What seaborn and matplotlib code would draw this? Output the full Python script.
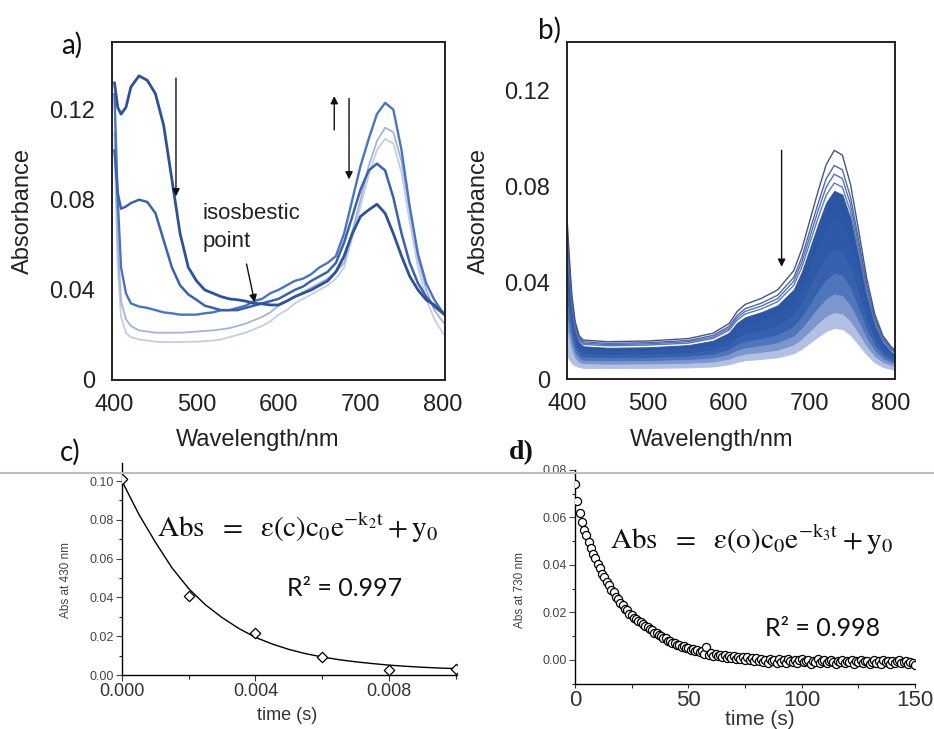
import matplotlib
matplotlib.use("Agg")
import matplotlib.pyplot as plt
import seaborn as sns
import pandas as pd
from matplotlib.lines import Line2D
from matplotlib.ticker import MultipleLocator

sns.set_theme(style="white")
plt.rcParams['font.family'] = ['Liberation Sans', 'DejaVu Sans']
plt.rcParams['mathtext.fontset'] = 'stix'

# ---------------- data: panel a ----------------
wl_a = [400, 404, 408, 414, 420, 430, 440, 450, 460, 470, 480, 490, 500, 510, 520, 530,
        540, 550, 560, 570, 580, 590, 600, 610, 620, 630, 640, 650, 660, 670, 680, 690,
        700, 710, 720, 730, 740, 750, 760, 770, 780, 790, 800, 805]
a_curve1 = [.132, .121, .118, .121, .130, .135, .133, .127, .113, .089, .065, .050, .044, .040, .0385, .037,
            .036, .0356, .035, .034, .0338, .0333, .0333, .035, .037, .0385, .040, .042, .044, .048, .055, .065,
            .0726, .0755, .078, .074, .065, .055, .046, .040, .0356, .0333, .030, .029]
a_curve2 = [.102, .083, .076, .077, .0785, .080, .079, .074, .062, .050, .042, .038, .0356, .033, .032, .031,
            .031, .031, .032, .033, .034, .035, .036, .038, .040, .0415, .044, .046, .048, .052, .061, .0726,
            .0845, .093, .096, .093, .081, .065, .052, .043, .037, .0326, .0296, .028]
a_curve3 = [.127, .080, .050, .0385, .034, .0326, .032, .031, .030, .0296, .029, .029, .029, .0296, .030, .031,
            .031, .032, .033, .035, .036, .0385, .040, .042, .044, .045, .047, .050, .052, .055, .065, .080,
            .095, .107, .118, .123, .120, .102, .077, .056, .043, .0356, .030, .029]
a_curve4 = [.110, .060, .035, .027, .024, .022, .0215, .021, .021, .021, .021, .0212, .0215, .0218, .022, .0225,
            .023, .024, .025, .0265, .028, .030, .033, .035, .037, .039, .041, .043, .045, .048, .052, .066,
            .080, .095, .106, .112, .110, .097, .075, .054, .040, .031, .026, .024]
a_curve5 = [.105, .050, .028, .021, .019, .018, .0175, .017, .0168, .0168, .0168, .017, .017, .0172, .0175, .018,
            .019, .020, .021, .0225, .024, .026, .029, .031, .034, .036, .038, .040, .042, .045, .050, .063,
            .077, .091, .102, .107, .105, .092, .070, .050, .036, .027, .021, .019]

# ---------------- data: panel b ----------------
wl_b = [400, 403, 406, 410, 415, 420, 450, 500, 550, 580, 600, 610, 620, 640, 660, 680, 690, 700,
        710, 720, 730, 740, 750, 760, 770, 780, 790, 800, 805]
b_line1 = [.067, .050, .035, .024, .018, .0162, .0155, .0158, .0168, .019, .023, .028, .031, .0335, .037, .045, .054, .066,
           .078, .089, .095, .093, .081, .062, .042, .027, .018, .0135, .012]
b_line2 = [.0627, .0469, .0329, .0227, .0171, .0155, .0148, .0151, .0160, .0181, .0218, .0264, .0292, .0315, .0348, .0422, .0506, .0618,
           .0729, .0832, .0887, .0869, .0757, .0580, .0394, .0255, .0171, .0129, .0115]
b_line3 = [.0601, .0450, .0317, .0219, .0165, .0149, .0143, .0146, .0155, .0174, .0210, .0254, .0281, .0303, .0334, .0406, .0486, .0592,
           .0699, .0797, .0851, .0833, .0726, .0557, .0379, .0245, .0165, .0125, .0112]
b_line4 = [.0576, .0431, .0304, .0210, .0159, .0144, .0138, .0141, .0149, .0168, .0202, .0244, .0270, .0291, .0321, .0389, .0465, .0567,
           .0669, .0763, .0814, .0797, .0695, .0533, .0363, .0236, .0159, .0121, .0108]
b_fill0 = [.0552, .0413, .0290, .0200, .0151, .0136, .0130, .0132, .0141, .0159, .0192, .0233, .0257, .0278, .0306, .0372, .0446, .0544,
           .0643, .0733, .0782, .0766, .0667, .0511, .0347, .0224, .0151, .0114, .0101]
b_fill1 = [.0465, .0350, .0248, .0173, .0132, .0120, .0115, .0117, .0124, .0139, .0166, .0200, .0220, .0237, .0261, .0316, .0377, .0458,
           .0540, .0615, .0656, .0642, .0560, .0431, .0295, .0193, .0132, .0101, .0091]
b_fill2 = [.0383, .0290, .0207, .0147, .0114, .0104, .0100, .0102, .0107, .0119, .0141, .0169, .0185, .0199, .0218, .0262, .0312, .0378,
           .0444, .0504, .0537, .0526, .0460, .0356, .0246, .0163, .0114, .0089, .0081]
b_fill3 = [.0314, .0239, .0173, .0124, .0098, .0090, .0087, .0088, .0093, .0102, .0120, .0142, .0155, .0166, .0182, .0217, .0256, .0309,
           .0362, .0410, .0437, .0428, .0375, .0292, .0204, .0138, .0098, .0078, .0072]
b_fill4 = [.0254, .0195, .0142, .0104, .0083, .0076, .0074, .0075, .0079, .0086, .0100, .0118, .0128, .0137, .0149, .0177, .0209, .0251,
           .0293, .0331, .0352, .0345, .0303, .0237, .0167, .0114, .0083, .0067, .0062]
b_fill5 = [.0199, .0153, .0113, .0083, .0067, .0062, .0060, .0061, .0064, .0069, .0080, .0094, .0102, .0109, .0118, .0140, .0164, .0196,
           .0229, .0258, .0275, .0269, .0237, .0186, .0132, .0091, .0067, .0055, .0051]
b_fill6 = [.0100, .0080, .0065, .0055, .0050, .0046, .0045, .0046, .0048, .0052, .0061, .0071, .0078, .0083, .0090, .0107, .0126, .0151,
           .0176, .0199, .0212, .0208, .0183, .0143, .0101, .0069, .0050, .0041, .0038]

# ---------------- data: panel c ----------------
time_c = [0.000, 0.002, 0.004, 0.006, 0.008, 0.010]
abs_c = [0.101, 0.0405, 0.0217, 0.0095, 0.0025, 0.0030]
fit_time_c = [0.0000, 0.0005, 0.0010, 0.0015, 0.0020, 0.0025, 0.0030, 0.0035, 0.0040, 0.0045, 0.0050,
              0.0055, 0.0060, 0.0065, 0.0070, 0.0075, 0.0080, 0.0085, 0.0090, 0.0095, 0.0100, 0.0101]
fit_abs_c = [0.1000, 0.0830, 0.0685, 0.0552, 0.0445, 0.0362, 0.0296, 0.0240, 0.0194, 0.0160, 0.0132,
             0.0110, 0.0093, 0.0079, 0.0068, 0.0059, 0.0051, 0.0045, 0.0040, 0.0036, 0.0033, 0.0032]

# ---------------- data: panel d ----------------
time_d = [0, 1, 2, 3, 4, 5, 6, 7, 8, 9, 10, 11, 12, 13, 14, 15, 16, 17, 18, 19,
          20, 21, 22, 23, 24, 25, 26, 27, 28, 29, 30, 31, 32, 33, 34, 35, 36, 37, 38, 39,
          40, 41, 42, 43, 44, 45, 46, 47, 48, 49, 50, 51, 52, 53, 54, 55, 56, 57, 58, 59,
          60, 61, 62, 63, 64, 65, 66, 67, 68, 69, 70, 71, 72, 73, 74, 75, 76, 77, 78, 79,
          80, 81, 82, 83, 84, 85, 86, 87, 88, 89, 90, 91, 92, 93, 94, 95, 96, 97, 98, 99,
          100, 101, 102, 103, 104, 105, 106, 107, 108, 109, 110, 111, 112, 113, 114, 115, 116, 117, 118, 119,
          120, 121, 122, 123, 124, 125, 126, 127, 128, 129, 130, 131, 132, 133, 134, 135, 136, 137, 138, 139,
          140, 141, 142, 143, 144, 145, 146, 147, 148, 149, 150]
abs_d = [.0740, .0670, .0620, .0580, .0548, .0524, .0495, .0472, .0446, .0427, .0402, .0386, .0362, .0349, .0327, .0315, .0295, .0284, .0265, .0257,
         .0240, .0232, .0215, .0209, .0194, .0189, .0178, .0173, .0162, .0160, .0152, .0142, .0139, .0128, .0125, .0115, .0113, .0103, .0101, .0092,
         .0092, .0081, .0081, .0069, .0070, .0061, .0063, .0055, .0057, .0048, .0051, .0041, .0045, .0036, .0040, .0031, .0036, .0026, .0052, .0022,
         .0028, .0018, .0024, .0015, .0022, .0012, .0019, .0009, .0017, .0007, .0015, .0004, .0013, .0002, .0011, .0000, .0010, -.0002, .0008, -.0003,
         .0007, -.0003, .0004, -.0009, .0001, -.0012, .0003, -.0006, -.0001, -.0013, .0002, -.0008, .0000, -.0014, .0003, -.0005, -.0010, .0001, -.0015, -.0002,
         .0002, -.0011, -.0004, .0001, -.0016, -.0003, -.0009, .0002, -.0013, -.0006, -.0001, -.0014, -.0004, .0001, -.0010, -.0017, -.0003, -.0008, .0000, -.0015,
         -.0006, -.0011, -.0002, -.0016, -.0005, -.0009, .0001, -.0014, -.0007, -.0003, -.0018, -.0008, -.0001, -.0012, -.0005, -.0016, -.0002, -.0010, -.0006, -.0019,
         -.0004, -.0012, -.0007, -.0001, -.0015, -.0009, -.0004, -.0017, -.0008, -.0012, -.0020]

W, H = 934, 729
fig = plt.figure(figsize=(W / 100, H / 100), dpi=100)


def px_axes(l, t, r, b):
    return fig.add_axes([l / W, 1 - b / H, (r - l) / W, (b - t) / H])


# ======================= panel a =======================
ax_a = px_axes(112, 42, 445, 380)
curves_a = [(a_curve5, '#c6cde6', 1.3), (a_curve4, '#a5b3d9', 1.3), (a_curve3, '#4a73c0', 1.7),
            (a_curve2, '#3a62ae', 1.8), (a_curve1, '#2f5199', 2.0)]
for vals, col, lw in curves_a:
    sns.lineplot(x=wl_a, y=vals, ax=ax_a, color=col, lw=lw, sort=False, estimator=None)
ax_a.set_xlim(397, 803)
ax_a.set_ylim(0, 0.15)

# ======================= panel b =======================
ax_b = px_axes(567, 42, 895, 379)
fills = [b_fill0, b_fill1, b_fill2, b_fill3, b_fill4, b_fill5, b_fill6]
fill_cols = ['#2b56a4', '#2d59a8', '#3561ae', '#4f76bc', '#7d96cc', '#b3c0e3']
for i in range(len(fills) - 1):
    ax_b.fill_between(wl_b, fills[i + 1], fills[i], color=fill_cols[i], lw=0.6, edgecolor=fill_cols[i])
outlines = [(b_line4, '#5d78bb'), (b_line3, '#5570b5'), (b_line2, '#4f68ad'), (b_line1, '#46567f')]
for vals, col in outlines:
    sns.lineplot(x=wl_b, y=vals, ax=ax_b, color=col, lw=1.0, sort=False, estimator=None)
ax_b.set_xlim(400, 805)
ax_b.set_ylim(0, 0.14)

for ax in (ax_a, ax_b):
    ax.set_xticks([400, 500, 600, 700, 800])
    ax.set_yticks([0, 0.04, 0.08, 0.12])
    ax.set_yticklabels(['0', '0.04', '0.08', '0.12'])
    ax.tick_params(direction='in', length=4, width=0.8, colors='#222222', labelsize=17)
    ax.tick_params(axis='y', pad=12)
    ax.tick_params(axis='x', pad=10)
    for s in ax.spines.values():
        s.set_color('#222222')
        s.set_linewidth(1.4)
    ax.set_ylabel('Absorbance', fontsize=17, color='#222222')
    ax.set_xlabel('Wavelength/nm', fontsize=17, color='#222222', va='top')
ax_a.yaxis.set_label_coords(-0.235, 0.5)
ax_a.xaxis.set_label_coords(0.438, -0.145)
ax_b.yaxis.set_label_coords(-0.235, 0.5)
ax_b.xaxis.set_label_coords(0.442, -0.148)

arrow_kw = dict(arrowstyle='-|>', color='#111111', lw=1.0, mutation_scale=11, shrinkA=0, shrinkB=0)
ax_a.annotate('', xy=(475, 0.0815), xytext=(475, 0.134), arrowprops=arrow_kw)
ax_a.annotate('', xy=(668, 0.126), xytext=(668, 0.111), arrowprops=arrow_kw)
ax_a.annotate('', xy=(686, 0.089), xytext=(686, 0.125), arrowprops=arrow_kw)
ax_a.annotate('', xy=(571, 0.0345), xytext=(561, 0.0515), arrowprops=arrow_kw)
ax_a.text(507, 0.0785, 'isosbestic\npoint', fontsize=16, va='top', ha='left',
          linespacing=1.45, color='#222222')
ax_b.annotate('', xy=(665, 0.0466), xytext=(665, 0.095), arrowprops=arrow_kw)

# ======================= panel c =======================
ax_c = px_axes(122, 463, 457, 675)
sns.lineplot(x=fit_time_c, y=fit_abs_c, ax=ax_c, color='black', lw=1.0, sort=False, estimator=None)
sns.scatterplot(x=time_c, y=abs_c, ax=ax_c, marker='D', s=28, color='white',
                edgecolor='black', linewidth=0.9, zorder=3)
ax_c.set_xlim(0, 0.01004)
ax_c.set_ylim(0, 0.1093)
ax_c.set_xticks([0.000, 0.004, 0.008])
ax_c.set_xticklabels(['0.000', '0.004', '0.008'])
ax_c.xaxis.set_minor_locator(MultipleLocator(0.002))
ax_c.set_yticks([0.00, 0.02, 0.04, 0.06, 0.08, 0.10])
ax_c.set_yticklabels(['0.00', '0.02', '0.04', '0.06', '0.08', '0.10'])
ax_c.yaxis.set_minor_locator(MultipleLocator(0.01))
ax_c.tick_params(axis='x', which='major', labelsize=13, pad=2, direction='out', length=4, width=0.8,
                 bottom=True, colors='#333333')
ax_c.tick_params(axis='x', which='minor', direction='out', length=3, width=0.8, bottom=True)
ax_c.tick_params(axis='y', which='major', labelsize=9, pad=2, direction='out', length=4, width=0.8,
                 left=True, colors='#444444')
ax_c.tick_params(axis='y', which='minor', direction='out', length=2.5, width=0.8, left=True)
ax_c.set_xlabel('time (s)', fontsize=13, color='#333333', va='top')
ax_c.xaxis.set_label_coords(0.493, -0.15)
ax_c.set_ylabel('Abs at 430 nm', fontsize=8.5, color='#444444')
ax_c.yaxis.set_label_coords(-0.15, 0.45)

# ======================= panel d =======================
ax_d = px_axes(575, 470, 915, 684)
sns.scatterplot(x=time_d, y=abs_d, ax=ax_d, marker='o', s=34, color='white',
                edgecolor='black', linewidth=0.9, zorder=3)
ax_d.set_xlim(0, 150)
ax_d.set_ylim(-0.0102, 0.08)
ax_d.set_xticks([0, 50, 100, 150])
ax_d.xaxis.set_minor_locator(MultipleLocator(25))
ax_d.set_yticks([0.00, 0.02, 0.04, 0.06, 0.08])
ax_d.set_yticklabels(['0.00', '0.02', '0.04', '0.06', '0.08'])
ax_d.yaxis.set_minor_locator(MultipleLocator(0.01))
ax_d.tick_params(axis='x', which='major', labelsize=16, pad=1, direction='out', length=3, width=0.8,
                 bottom=True, colors='#333333')
ax_d.tick_params(axis='x', which='minor', direction='out', length=3, width=0.8, bottom=True)
ax_d.tick_params(axis='y', which='major', labelsize=9, pad=2, direction='out', length=4, width=0.8,
                 left=True, colors='#444444')
ax_d.tick_params(axis='y', which='minor', direction='out', length=2.5, width=0.8, left=True)
ax_d.set_xlabel('time (s)', fontsize=15, color='#333333', va='top')
ax_d.xaxis.set_label_coords(0.544, -0.12)
ax_d.set_ylabel('Abs at 730 nm', fontsize=8.5, color='#444444')
ax_d.yaxis.set_label_coords(-0.145, 0.44)

for ax in (ax_c, ax_d):
    ax.spines['top'].set_visible(False)
    ax.spines['right'].set_visible(False)
    for s in ('left', 'bottom'):
        ax.spines[s].set_color('black')
        ax.spines[s].set_linewidth(1.0)

# ======================= annotations =======================
fig.add_artist(Line2D([0, 1], [1 - 473 / H, 1 - 473 / H], color='#bdbdbd', lw=1.5,
                      transform=fig.transFigure))

lab_kw = dict(fontsize=20, color='#111111', ha='center', va='center')
fig.text(72 / W, 1 - 45 / H, 'a)', family=['Lato', 'DejaVu Sans'], **lab_kw)
fig.text(549 / W, 1 - 30 / H, 'b)', family=['Lato', 'DejaVu Sans'], **lab_kw)
fig.text(70 / W, 1 - 452 / H, 'c)', family=['Lato', 'DejaVu Sans'], **lab_kw)
fig.text(521 / W, 1 - 453 / H, 'd)', family=['Liberation Serif', 'DejaVu Serif'], fontweight='bold', **lab_kw)

eq_c = r'$\mathrm{Abs}\ \ =\ \ \mathrm{ε(c)c}_0\mathrm{e}^{-\mathrm{k}_2\mathrm{t}}+\mathrm{y}_0$'
eq_d = r'$\mathrm{Abs}\ \ =\ \ \mathrm{ε(o)c}_0\mathrm{e}^{-\mathrm{k}_3\mathrm{t}}+\mathrm{y}_0$'
fig.text(157 / W, 1 - 528 / H, eq_c, fontsize=21, color='#111111', ha='left', va='center')
fig.text(610 / W, 1 - 540 / H, eq_d, fontsize=21, color='#111111', ha='left', va='center')
fig.text(287 / W, 1 - 588 / H, 'R² = 0.997', fontsize=18, family=['Lato', 'DejaVu Sans'],
         color='#111111', ha='left', va='center')
fig.text(765 / W, 1 - 628 / H, 'R² = 0.998', fontsize=18, family=['Lato', 'DejaVu Sans'],
         color='#111111', ha='left', va='center')

fig.savefig('out.png', dpi=100)
